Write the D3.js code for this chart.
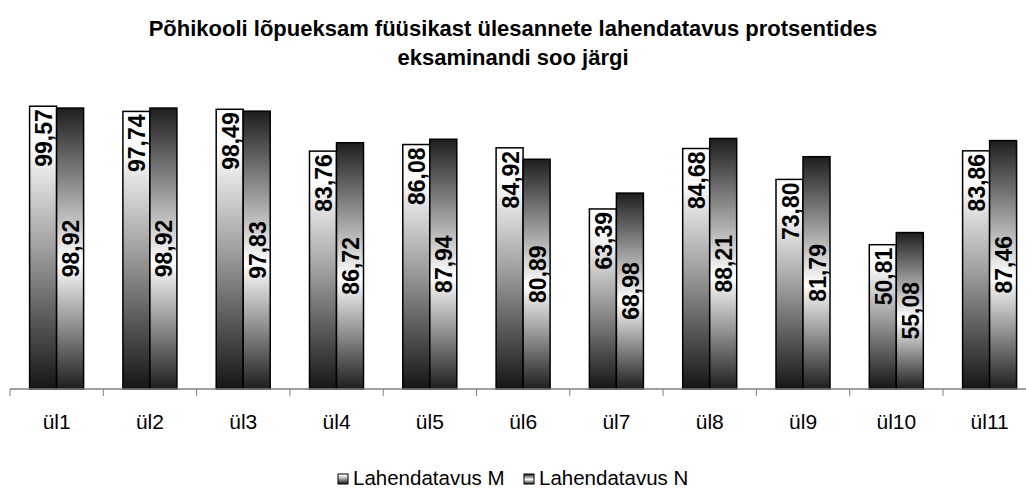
<!DOCTYPE html>
<html>
<head>
<meta charset="utf-8">
<script src="https://cdn.jsdelivr.net/npm/d3@7"></script>
<style>
  html, body { margin: 0; padding: 0; background: #fff; }
  svg { display: block; font-family: "Liberation Sans", Arial, sans-serif; }
</style>
</head>
<body>
<svg id="chart" width="1026" height="488"></svg>
<script>
const titleLines = ["Põhikooli lõpueksam füüsikast ülesannete lahendatavus protsentides", "eksaminandi soo järgi"];
const categories = ["ül1","ül2","ül3","ül4","ül5","ül6","ül7","ül8","ül9","ül10","ül11"];
const seriesNames = ["Lahendatavus M", "Lahendatavus N"];
const valuesM = [99.57, 97.74, 98.49, 83.76, 86.08, 84.92, 63.39, 84.68, 73.80, 50.81, 83.86];
const valuesN = [98.92, 98.92, 97.83, 86.72, 87.94, 80.89, 68.98, 88.21, 81.79, 55.08, 87.46];

const svg = d3.select("#chart");
const W = 1026, H = 488;
const baseY = 389, topY = 105;

const defs = svg.append("defs");
const gM = defs.append("linearGradient").attr("id", "gradM").attr("x1", 0).attr("y1", 0).attr("x2", 0).attr("y2", 1);
[[0, "#ffffff"], [0.15, "#fafafa"], [0.5, "#a0a0a0"], [1, "#151515"]].forEach(([o, c]) =>
  gM.append("stop").attr("offset", o).attr("stop-color", c));
const gN = defs.append("linearGradient").attr("id", "gradN").attr("x1", 0).attr("y1", 0).attr("x2", 0).attr("y2", 1);
[[0, "#1e1e1e"], [0.55, "#ffffff"], [1, "#1e1e1e"]].forEach(([o, c]) =>
  gN.append("stop").attr("offset", o).attr("stop-color", c));
const grads = ["url(#gradM)", "url(#gradN)"];

const x = d3.scaleBand().domain(categories).range([10, 10 + 93.3 * categories.length]).paddingInner(0).paddingOuter(0);
const y = d3.scaleLinear().domain([0, 100]).range([baseY, topY]);
const barW = 27, barOff = 19.6;

// title
const title = svg.append("text").attr("text-anchor", "middle").attr("font-weight", "bold").attr("font-size", 22).attr("fill", "#000");
titleLines.forEach((t, i) => title.append("tspan").attr("x", 513).attr("y", 36 + i * 29).text(t));

// bars
const data = categories.map((c, i) => ({c, v: [valuesM[i], valuesN[i]]}));
const groups = svg.append("g").selectAll("g").data(data).join("g")
  .attr("transform", d => `translate(${x(d.c) + barOff},0)`);

groups.each(function(d) {
  const g = d3.select(this);
  d.v.forEach((v, s) => {
    g.append("rect")
      .attr("x", s * barW).attr("y", y(v))
      .attr("width", barW).attr("height", baseY - y(v))
      .attr("fill", grads[s]).attr("stroke", "#000").attr("stroke-width", 1.5);
  });
});

// axis
const axis = svg.append("g").attr("transform", `translate(0,${baseY})`);
axis.append("line").attr("x1", 10).attr("x2", W).attr("y1", 0).attr("y2", 0).attr("stroke", "#808080").attr("stroke-width", 1.5);
const boundaries = categories.map(c => x(c)).concat([x.range()[1]]);
axis.selectAll("line.tick").data(boundaries).join("line").attr("class", "tick")
  .attr("x1", d => d).attr("x2", d => d).attr("y1", 0).attr("y2", 7).attr("stroke", "#808080").attr("stroke-width", 1);
axis.selectAll("text").data(categories).join("text")
  .attr("x", d => x(d) + x.bandwidth() / 2).attr("y", 40)
  .attr("text-anchor", "middle").attr("font-size", 21).attr("fill", "#000").text(d => d);

// value labels
const fmt = v => d3.format(".2f")(v).replace(".", ",");
groups.each(function(d) {
  const g = d3.select(this);
  const vM = d.v[0];
  const topM = y(vM);
  g.append("text").attr("transform", `translate(${barW / 2 + 1},${topM + 3}) rotate(-90)`)
    .attr("dy", "0.35em").attr("text-anchor", "end").attr("font-weight", "bold").attr("font-size", 23).text(fmt(vM));
  const vN = d.v[1];
  const midN = (y(vN) + baseY) / 2;
  g.append("text").attr("transform", `translate(${barW * 1.5 + 1},${midN}) rotate(-90)`)
    .attr("dy", "0.35em").attr("text-anchor", "middle").attr("font-weight", "bold").attr("font-size", 23).text(fmt(vN));
});

// legend
const legend = svg.append("g").attr("transform", "translate(0,485)");
const lx = [338, 524];
seriesNames.forEach((n, i) => {
  legend.append("rect").attr("x", lx[i]).attr("y", -11).attr("width", 10).attr("height", 10)
    .attr("fill", grads[i]).attr("stroke", "#000").attr("stroke-width", 1);
  legend.append("text").attr("x", lx[i] + 15).attr("y", 0).attr("font-size", 20.5).attr("fill", "#000").text(n);
});
</script>
</body>
</html>
